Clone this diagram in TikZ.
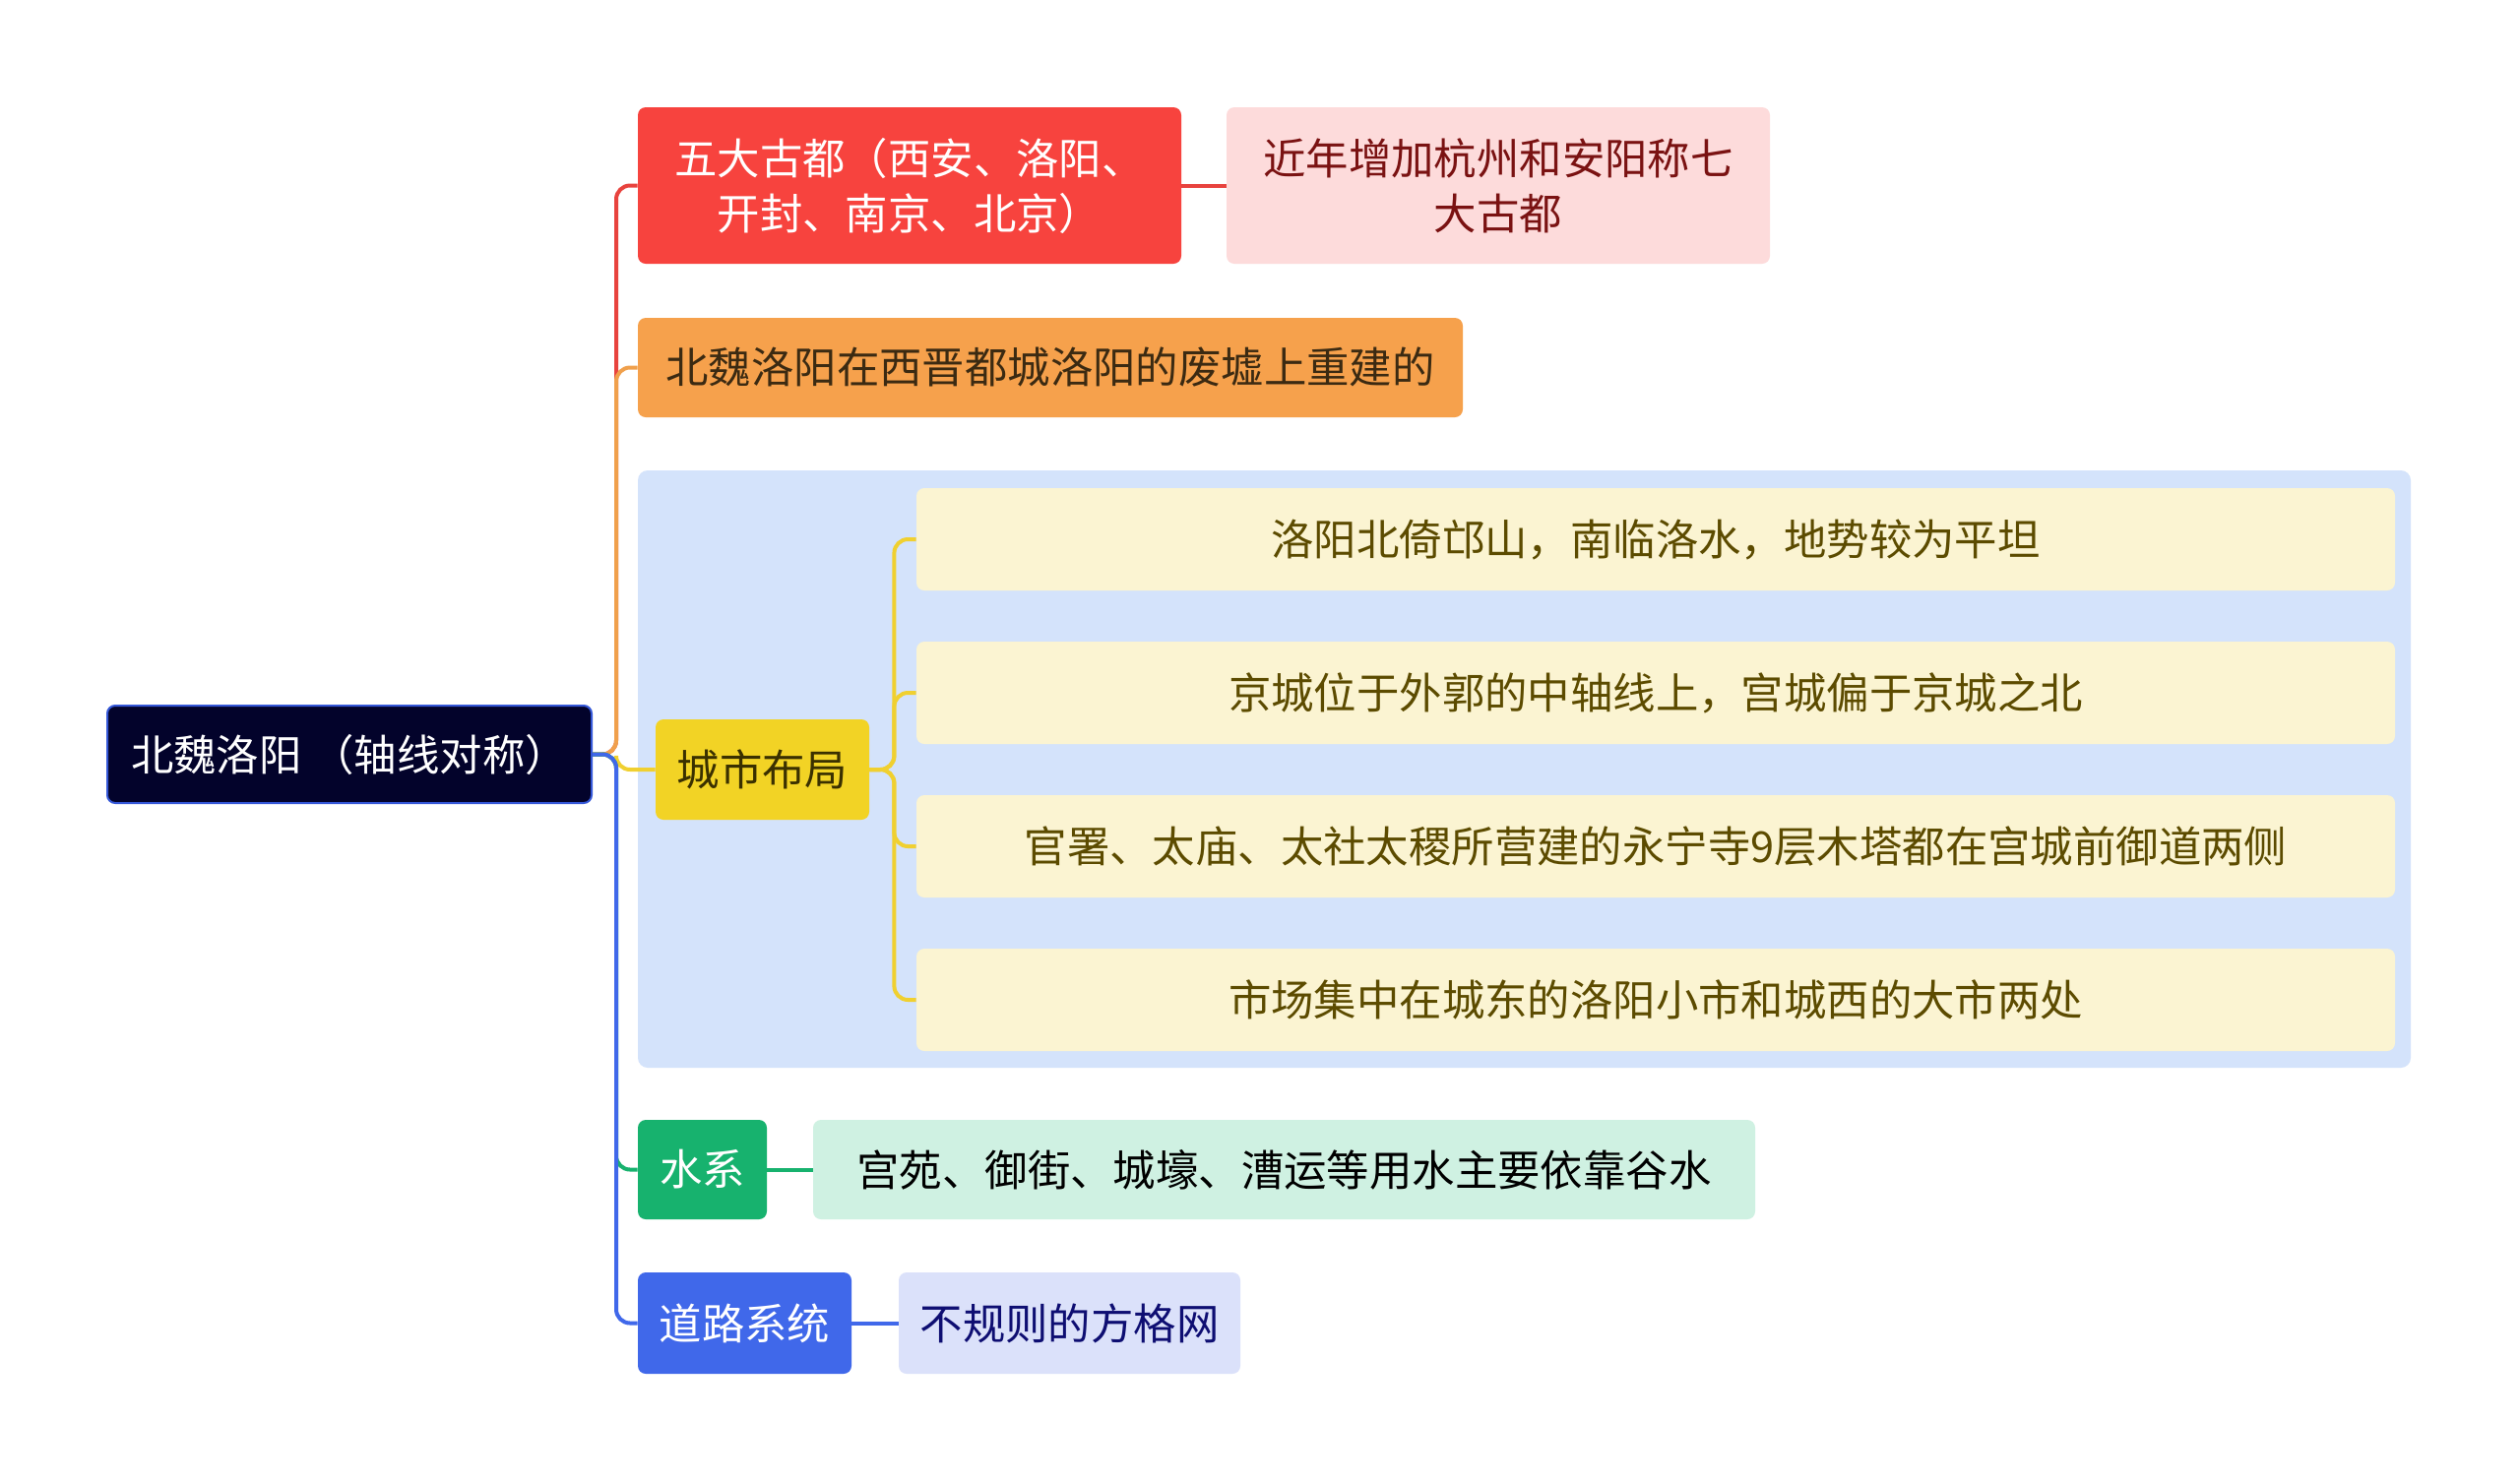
\documentclass[tikz,border=0pt]{standalone}
\usepackage{fontspec}
\setmainfont{Noto Sans CJK SC}
\usepackage{xcolor}
\definecolor{RootFill}{HTML}{03032B}
\definecolor{RootLine}{HTML}{3558D8}
\definecolor{RedFill}{HTML}{F7433E}
\definecolor{PinkFill}{HTML}{FDDBDB}
\definecolor{PinkInk}{HTML}{7A1212}
\definecolor{OrangeFill}{HTML}{F6A14C}
\definecolor{OrangeInk}{HTML}{3B2A12}
\definecolor{GroupBg}{HTML}{D4E3FB}
\definecolor{YellowFill}{HTML}{F2D325}
\definecolor{YellowInk}{HTML}{3A3000}
\definecolor{LeafFill}{HTML}{FBF4D2}
\definecolor{LeafInk}{HTML}{5C4B00}
\definecolor{GreenFill}{HTML}{17B26E}
\definecolor{MintFill}{HTML}{CFF1E2}
\definecolor{BlueFill}{HTML}{4068EA}
\definecolor{LilacFill}{HTML}{DBE1FA}
\definecolor{NavyInk}{HTML}{0E0E72}
\definecolor{RedLine}{HTML}{E8433E}
\definecolor{OrangeLine}{HTML}{F0A04C}
\definecolor{YellowLine}{HTML}{F0D030}

\begin{document}
\begin{tikzpicture}[x=0.5pt,y=-0.5pt,
  box/.style={rounded corners=4pt,inner sep=0pt,align=center,
    font=\fontsize{21.7pt}{28pt}\selectfont},
  leaf/.style={box,fill=LeafFill,text=LeafInk,minimum width=751pt,minimum height=52pt},
  link/.style={line width=2pt,rounded corners=7pt}]
\path[use as bounding box,fill=white] (0,0) rectangle (2560,1506);
\fill[GroupBg,rounded corners=5pt] (648,478) rectangle (2449,1085);

\node[box,fill=RootFill,draw=RootLine,line width=1pt,text=white,
  minimum width=246pt,minimum height=49.5pt] (root) at (355,766.5) {北魏洛阳 （轴线对称）};
\node[box,fill=RedFill,text=white,minimum width=276pt,minimum height=79.5pt]
  (capital) at (924,188.5) {五大古都（西安、洛阳、\\开封、南京、北京）};
\node[box,fill=PinkFill,text=PinkInk,minimum width=276pt,minimum height=79.5pt]
  (recent) at (1522,188.5) {近年增加杭州和安阳称七\\大古都};
\node[box,fill=OrangeFill,text=OrangeInk,minimum width=419pt,minimum height=50.5pt]
  (rebuilt) at (1067,373.5) {北魏洛阳在西晋都城洛阳的废墟上重建的};
\node[box,fill=YellowFill,text=YellowInk,minimum width=108.5pt,minimum height=51pt]
  (layout) at (774.5,782) {城市布局};
\node[leaf] (terrain) at (1682,548) {洛阳北倚邙山，南临洛水，地势较为平坦};
\node[leaf] (axis) at (1682,704) {京城位于外郭的中轴线上，宫城偏于京城之北};
\node[leaf] (temple) at (1682,860) {官署、太庙、太社太稷所营建的永宁寺9层木塔都在宫城前御道两侧};
\node[leaf] (market) at (1682,1016) {市场集中在城东的洛阳小市和城西的大市两处};
\node[box,fill=GreenFill,text=white,minimum width=65.5pt,minimum height=50.5pt]
  (water) at (713.5,1188.5) {水系};
\node[box,fill=MintFill,text=black,minimum width=478.5pt,minimum height=50.5pt]
  (canal) at (1304.5,1188.5) {宫苑、御街、城壕、漕运等用水主要依靠谷水};
\node[box,fill=BlueFill,text=white,minimum width=108.5pt,minimum height=51.5pt]
  (road) at (756.5,1344.5) {道路系统};
\node[box,fill=LilacFill,text=NavyInk,minimum width=173.5pt,minimum height=51.5pt]
  (grid) at (1086.5,1344.5) {不规则的方格网};

\draw[link,RedLine] (root.east) -- ++(24,0) |- (capital.west);
\draw[link,RedLine] (capital.east) -- (recent.west);
\draw[link,OrangeLine] (root.east) -- ++(24,0) |- (rebuilt.west);
\draw[link,YellowLine] (root.east) -- ++(24,0) |- (layout.west);
\draw[link,YellowLine] (layout.east) -- ++(25,0) |- (terrain.west);
\draw[link,YellowLine] (layout.east) -- ++(25,0) |- (axis.west);
\draw[link,YellowLine] (layout.east) -- ++(25,0) |- (temple.west);
\draw[link,YellowLine] (layout.east) -- ++(25,0) |- (market.west);
\draw[link,GreenFill] (root.east) -- ++(24,0) |- (water.west);
\draw[link,GreenFill] (water.east) -- (canal.west);
\draw[link,BlueFill] (root.east) -- ++(24,0) |- (road.west);
\draw[link,BlueFill] (road.east) -- (grid.west);
\end{tikzpicture}
\end{document}
